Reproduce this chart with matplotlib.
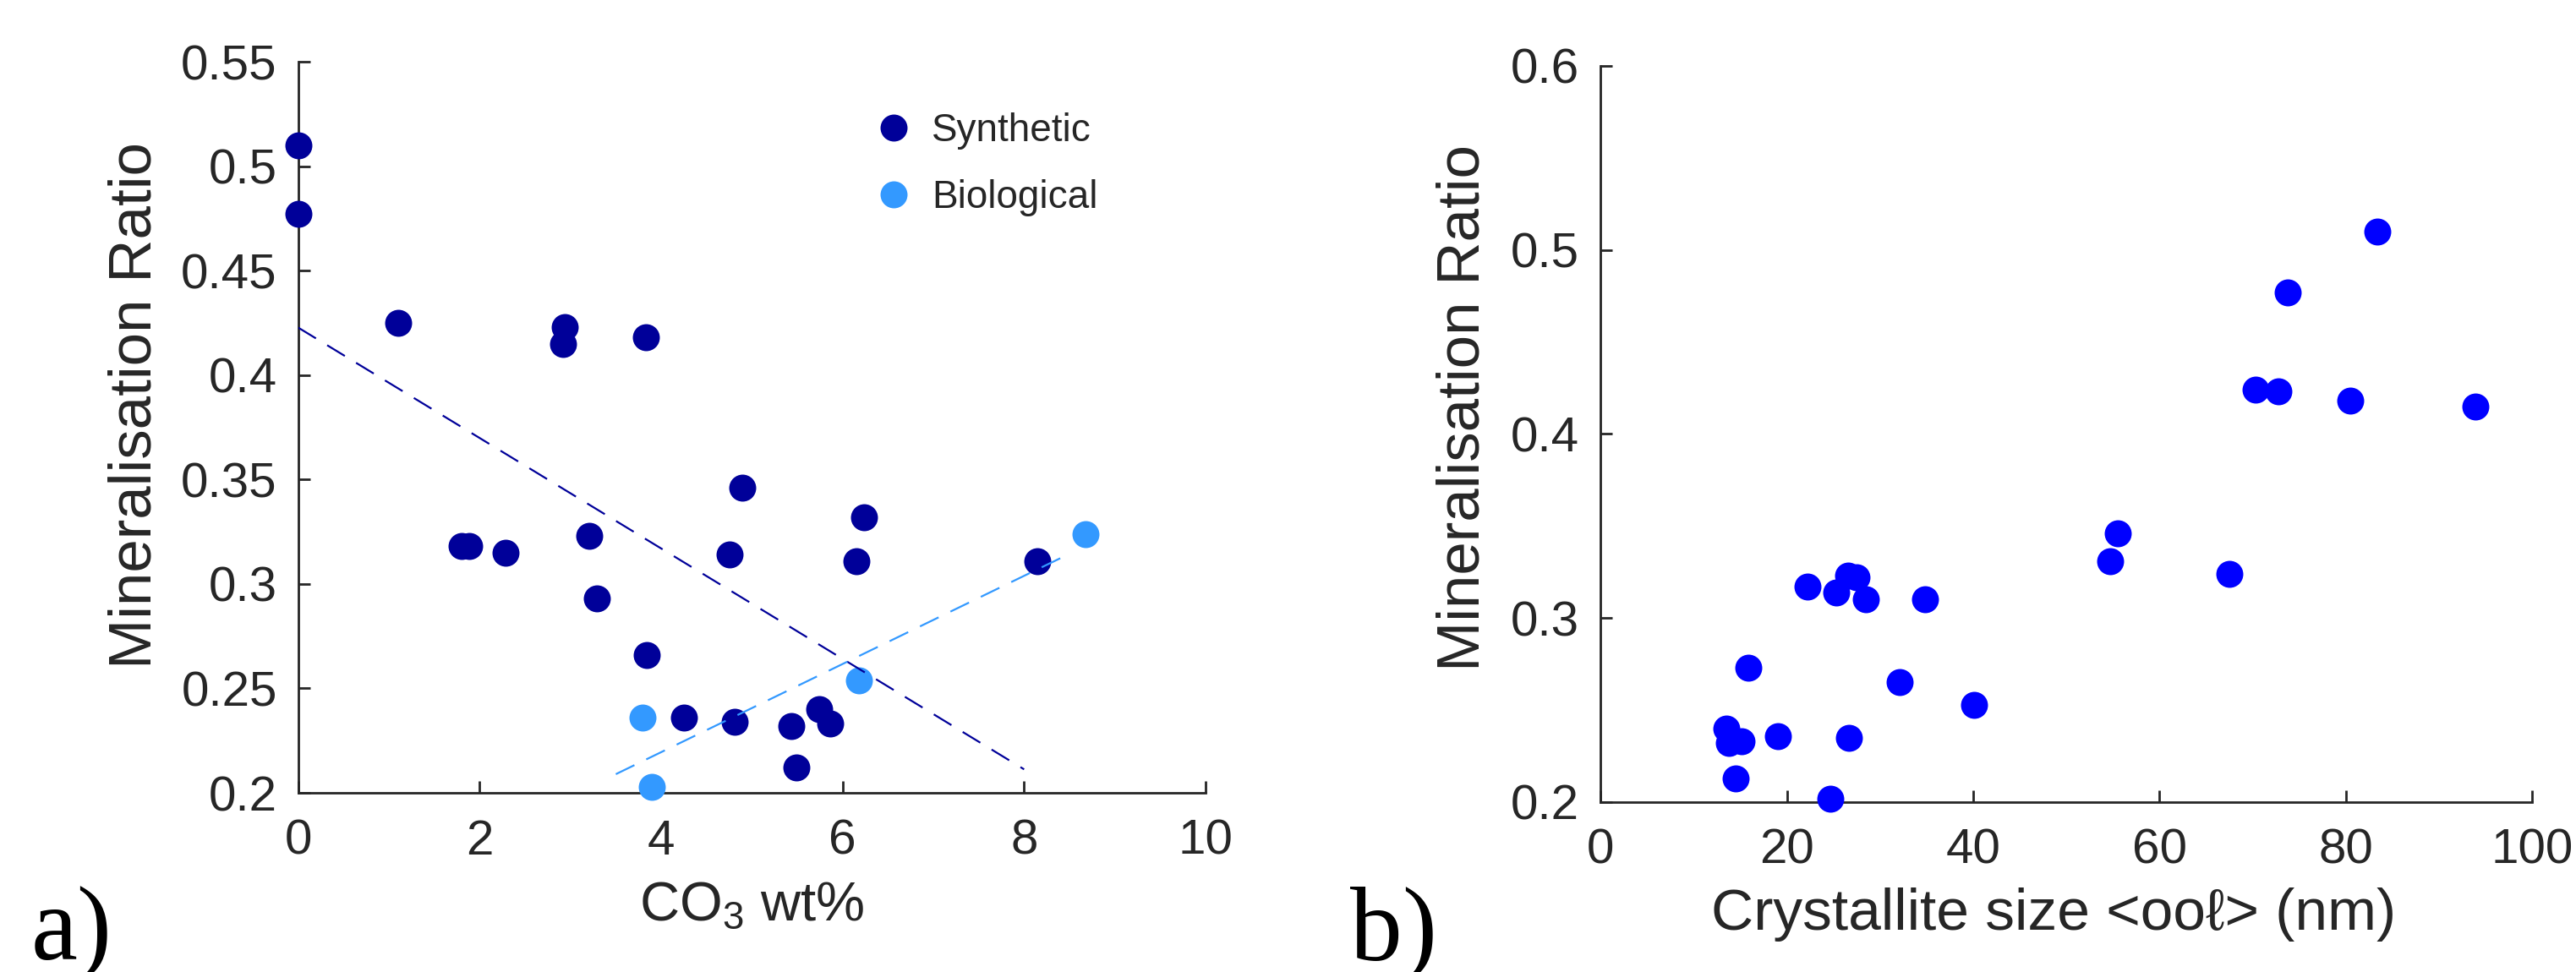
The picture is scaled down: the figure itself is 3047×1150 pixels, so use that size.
import matplotlib
matplotlib.use('Agg')
import matplotlib.pyplot as plt
import numpy as np

plt.rcParams['font.family'] = ['Liberation Sans', 'DejaVu Sans']
plt.rcParams['mathtext.fontset'] = 'custom'
plt.rcParams['mathtext.rm'] = 'Liberation Sans'
plt.rcParams['mathtext.it'] = 'Liberation Sans:italic'

# (a) carbonate content vs mineralisation ratio
syn_co3 = [0.0, 0.0, 1.10, 2.94, 2.92, 3.83, 4.89, 6.24, 1.80, 1.88, 2.28, 3.21,
           4.75, 6.15, 8.15, 3.29, 3.84, 4.25, 4.81, 5.43, 5.74, 5.86, 5.49]
syn_ratio = [0.510, 0.477, 0.425, 0.423, 0.415, 0.418, 0.346, 0.332, 0.318, 0.318, 0.315, 0.323,
             0.314, 0.311, 0.311, 0.293, 0.266, 0.236, 0.234, 0.232, 0.240, 0.233, 0.212]
bio_co3 = [3.79, 3.90, 6.18, 8.68]
bio_ratio = [0.236, 0.203, 0.254, 0.324]

# linear trend lines: (intercept, slope, x range)
syn_fit = (0.4227, -0.02643, [0.0, 8.0])
bio_fit = (0.1351, 0.0211, [3.5, 8.4])

# (b) crystallite size vs mineralisation ratio
cryst_size = [83.4, 73.8, 70.3, 72.8, 80.5, 93.9, 55.5, 54.7, 67.5, 22.2, 25.3, 26.6, 27.5,
              28.5, 34.8, 15.9, 32.1, 40.1, 13.5, 13.8, 15.1, 19.0, 26.7, 14.5, 24.7]
cryst_ratio = [0.510, 0.477, 0.424, 0.423, 0.418, 0.415, 0.346, 0.331, 0.324, 0.317, 0.314, 0.323, 0.322,
               0.310, 0.310, 0.273, 0.265, 0.253, 0.240, 0.232, 0.233, 0.236, 0.235, 0.213, 0.202]

xticks_a = [0, 2, 4, 6, 8, 10]
yticks_a = [0.2, 0.25, 0.3, 0.35, 0.4, 0.45, 0.5, 0.55]
xticks_b = [0, 20, 40, 60, 80, 100]
yticks_b = [0.2, 0.3, 0.4, 0.5, 0.6]

dark = '#262626'
c_syn = '#000099'
c_bio = '#3399ff'
c_b = '#0000ff'

fig = plt.figure(figsize=(30.47, 11.5), dpi=100)
ax1 = fig.add_axes([0.1158, 0.1843, 0.3522, 0.7522])
ax2 = fig.add_axes([0.6213, 0.1748, 0.3617, 0.7574])


def style_axes(ax, xticks, yticks):
    for s in ['top', 'right']:
        ax.spines[s].set_visible(False)
    for s in ['left', 'bottom']:
        ax.spines[s].set_color(dark)
        ax.spines[s].set_linewidth(2)
    ax.set_xlim(xticks[0], xticks[-1])
    ax.set_ylim(yticks[0], yticks[-1])
    ax.set_xticks(xticks)
    ax.set_yticks(yticks)
    ax.set_xticklabels(['%g' % t for t in xticks])
    ax.set_yticklabels(['%g' % t for t in yticks])
    ax.tick_params(direction='in', length=10, width=2, colors=dark, labelsize=42)
    ax.tick_params(axis='x', pad=22)
    ax.tick_params(axis='y', pad=18)


ms = 23
ax1.plot(syn_co3, syn_ratio, 'o', ms=ms, color=c_syn, mec='none', label='Synthetic', clip_on=False, zorder=3)
ax1.plot(bio_co3, bio_ratio, 'o', ms=ms, color=c_bio, mec='none', label='Biological', clip_on=False, zorder=3)

xs = np.array(syn_fit[2])
ax1.plot(xs, syn_fit[0] + syn_fit[1] * xs, color=c_syn, lw=1.6, linestyle=(0, (11, 7)), zorder=4)
xb = np.array(bio_fit[2])
ax1.plot(xb, bio_fit[0] + bio_fit[1] * xb, color=c_bio, lw=1.6, linestyle=(0, (11, 7)), zorder=4)

style_axes(ax1, xticks_a, yticks_a)
ax1.set_xlabel('CO$_3$ wt%', fontsize=47, color=dark, labelpad=14)
ax1.set_ylabel('Mineralisation Ratio', fontsize=51, color=dark, labelpad=15)
ax1.yaxis.label.set_y(0.53)
ax1.legend(loc='upper left', bbox_to_anchor=(0.592, 0.978), frameon=False, fontsize=33,
           handlelength=1.2, handletextpad=0.38, labelspacing=0.75, borderpad=0.4,
           labelcolor=dark)

ax2.plot(cryst_size, cryst_ratio, 'o', ms=ms, color=c_b, mec='none', clip_on=False, zorder=3)
style_axes(ax2, xticks_b, yticks_b)
ax2.set_xlabel('Crystallite size <oo\u2113> (nm)', fontsize=50, color=dark, labelpad=12)
ax2.xaxis.label.set_x(0.486)
ax2.set_ylabel('Mineralisation Ratio', fontsize=51, color=dark, labelpad=16)
ax2.yaxis.label.set_y(0.536)

fig.text(37 / 3047, 15 / 1150, 'a)', family='Liberation Serif', fontsize=89, color='black')
fig.text(1597 / 3047, 15 / 1150, 'b)', family='Liberation Serif', fontsize=89, color='black')

fig.savefig('out.png', dpi=100)
